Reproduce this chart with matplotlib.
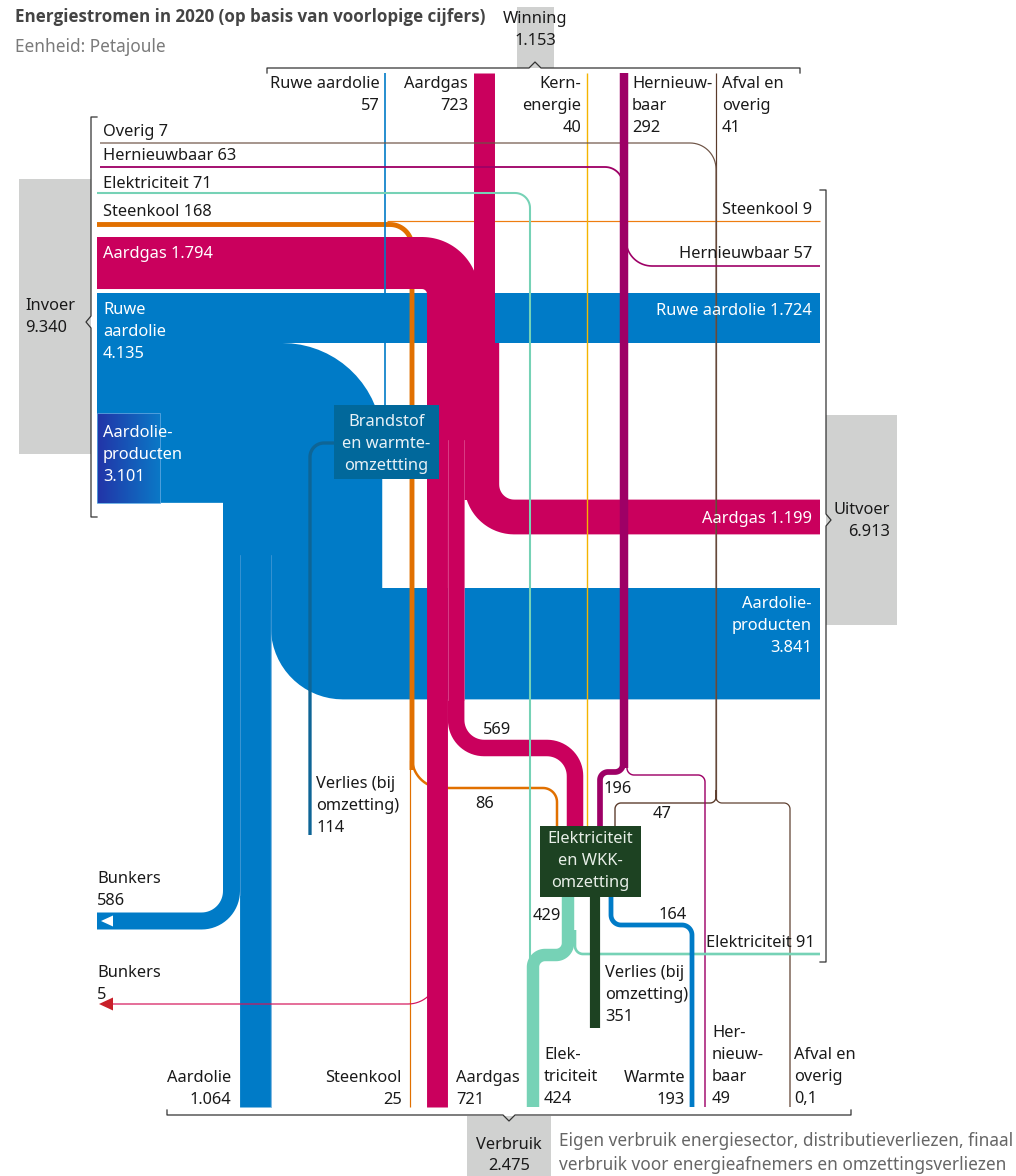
import numpy as np
import matplotlib.pyplot as plt
from matplotlib.patches import Polygon, Rectangle
from matplotlib.colors import LinearSegmentedColormap

# --- gegevens (PJ) ---
invoer_namen = ['Overig', 'Hernieuwbaar', 'Elektriciteit', 'Steenkool', 'Aardgas', 'Ruwe aardolie', 'Aardolieproducten']
invoer_waarden = [7, 63, 71, 168, 1794, 4135, 3101]
winning_namen = ['Ruwe aardolie', 'Aardgas', 'Kernenergie', 'Hernieuwbaar', 'Afval en overig']
winning_waarden = [57, 723, 40, 292, 41]
uitvoer_namen = ['Steenkool', 'Hernieuwbaar', 'Ruwe aardolie', 'Aardgas', 'Aardolieproducten', 'Elektriciteit']
uitvoer_waarden = [9, 57, 1724, 1199, 3841, 91]
verbruik_namen = ['Aardolie', 'Steenkool', 'Aardgas', 'Elektriciteit', 'Warmte', 'Hernieuwbaar', 'Afval en overig']
verbruik_waarden = [1064, 25, 721, 424, 193, 49, 0.1]
bunkers_waarden = [586, 5]            # aardolie, aardgas
verlies_waarden = [114, 351]          # brandstof/warmte, elektriciteit/wkk
naar_elek = [86, 569, 196, 47]        # steenkool, aardgas, hernieuwbaar, afval
uit_elek = [429, 164]                 # elektriciteit, warmte
totalen = {'Invoer': 9340, 'Winning': 1153, 'Uitvoer': 6913, 'Verbruik': 2475}

DPI = 100
S = 0.029          # px per PJ
FS = 11.8
FONT = 'Noto Sans'

OLIE = '#007bc7'
GAS = '#ca005d'
HERN = '#9e0066'
KOOL = '#e17000'
KERN = '#f5b400'
ELEK = '#76d2b6'
AFVAL = '#5a3a2a'
OVERIG = '#6e5446'
BRANDBOX = '#01689b'
ELEKBOX = '#1d4222'
GRIJS = '#d0d1d0'
TEKST = '#1a1a1a'


def nl(v):
    if float(v).is_integer():
        return f"{int(v):,}".replace(',', '.')
    return str(v).replace('.', ',')


def w(v, minw=1.2):
    return max(minw, v * S)


def rond(pts, r, n=18, closed=False):
    pts = np.asarray(pts, float)
    m = len(pts)
    rs = r if np.iterable(r) else [r] * m
    out = []
    idx = range(m) if closed else range(1, m - 1)
    if not closed:
        out.append(pts[0])
    for k, i in enumerate(idx):
        p0, p1, p2 = pts[i - 1], pts[i], pts[(i + 1) % m]
        rr = rs[i] if closed else rs[k]
        if rr <= 0:
            out.append(p1)
            continue
        d1 = (p0 - p1) / np.linalg.norm(p0 - p1)
        d2 = (p2 - p1) / np.linalg.norm(p2 - p1)
        c = p1 + (d1 + d2) * rr
        a0 = np.arctan2(-d2[1], -d2[0])
        a1 = np.arctan2(-d1[1], -d1[0])
        diff = (a1 - a0 + np.pi) % (2 * np.pi) - np.pi
        t = a0 + np.linspace(0, 1, n) * diff
        out.extend(np.c_[c[0] + rr * np.cos(t), c[1] + rr * np.sin(t)])
    if not closed:
        out.append(pts[-1])
    return np.array(out)


def stroom(pts, v, color, r=10, z=2, minw=1.2):
    xy = rond(pts, r)
    ax.plot(xy[:, 0], xy[:, 1], color=color, lw=w(v, minw) * 72 / DPI,
            solid_capstyle='butt', solid_joinstyle='round', zorder=z)


def tekst(x, y, s, ha='left', color=TEKST, size=FS, weight='normal', dy=22, z=10, family=FONT):
    for i, regel in enumerate(s.split('\n')):
        ax.text(x, y + i * dy, regel, ha=ha, va='baseline', color=color,
                fontsize=size, fontweight=weight, family=family, zorder=z)


fig = plt.figure(figsize=(10.16, 11.76), dpi=DPI)
ax = fig.add_axes([0, 0, 1, 1])
ax.set_xlim(0, 1016)
ax.set_ylim(1176, 0)
ax.axis('off')

# --- grijze vakken ---
for x0, y0, x1, y1 in [(19, 179, 91, 454), (826, 415, 897, 625), (517, 7, 554, 68), (467, 1116, 551, 1176)]:
    ax.add_patch(Rectangle((x0, y0), x1 - x0, y1 - y0, color=GRIJS, lw=0, zorder=0))

# --- aardolie (blauw) ---
X0, X1 = 97, 820
Y_RUW = 293
w_transit = uitvoer_waarden[2] * S
ax.add_patch(Rectangle((X0, Y_RUW), X1 - X0, w_transit, color=OLIE, lw=0, zorder=1))

X_KOL = 223
w_bunk = bunkers_waarden[0] * S
w_aard = verbruik_waarden[0] * S
w_prod = uitvoer_waarden[4] * S
x_kol_r = X_KOL + w_bunk + w_aard + w_prod
y_top = Y_RUW + w_transit
y_bot = Y_RUW + (invoer_waarden[5] + invoer_waarden[6]) * S
Y_PROD = 588
x_bocht = X_KOL + w_bunk + w_aard
poly = [(X0, y_top), (x_kol_r, y_top), (x_kol_r, Y_PROD), (X1, Y_PROD), (X1, Y_PROD + w_prod),
        (x_bocht, Y_PROD + w_prod), (x_bocht, 610), (X_KOL, 610), (X_KOL, y_bot), (X0, y_bot)]
radii = [0, 100, 0, 0, 0, 72, 0, 0, 0, 0]
ax.add_patch(Polygon(rond(poly, radii, closed=True), closed=True, color=OLIE, lw=0, zorder=1))

# bunkers en finaal verbruik aardolie
stroom([(X_KOL + w_bunk / 2, 600), (X_KOL + w_bunk / 2, 921), (X0, 921)], bunkers_waarden[0], OLIE, r=30, z=1)
stroom([(X_KOL + w_bunk + w_aard / 2, 600), (X_KOL + w_bunk + w_aard / 2, 1107)],
       verbruik_waarden[0], OLIE, z=1)
ax.plot([X_KOL + w_bunk] * 2, [555, 895], color='#4b9bd6', lw=0.5, zorder=1.5)
ax.plot([x_bocht] * 2, [555, 1107], color='#4b9bd6', lw=0.5, zorder=1.5)
ax.add_patch(Polygon([(101, 921), (113, 915.5), (113, 926.5)], color='white', lw=0, zorder=3))

# aardolieproducten invoer (verloop)
grad = np.linspace(0, 1, 100)[None, :]
cm = LinearSegmentedColormap.from_list('p', ['#2234a8', '#0b78c6'])
ax.imshow(grad, cmap=cm, extent=(X0, 160, y_bot, Y_RUW + invoer_waarden[5] * S), aspect='auto', zorder=1.6)
ax.add_patch(Rectangle((X0, Y_RUW + invoer_waarden[5] * S), 63, invoer_waarden[6] * S, fill=False,
                       ec='#5aa6e0', lw=0.6, zorder=1.7))

# verlies brandstof
stroom([(334, 443), (310, 443), (310, 835)], verlies_waarden[0], '#0e6596', r=14, z=3)

# --- steenkool ---
stroom([(X0, 224.5), (412, 224.5), (412, 770)], invoer_waarden[3], KOOL, r=22, z=2)
stroom([(412, 740), (412, 788), (557, 788), (557, 827)], naar_elek[0], KOOL, r=[30, 14], z=2)
stroom([(410, 760), (410, 1107)], verbruik_waarden[1], KOOL, z=2)
stroom([(387, 220.5), (X1, 220.5)], uitvoer_waarden[0], '#ee7d10', z=2)

# --- aardgas ---
X_GAS = 427
Y_GAS = 237
w_imp = invoer_waarden[4] * S
w_721 = verbruik_waarden[2] * S
w_569 = naar_elek[1] * S
w_exp = uitvoer_waarden[3] * S
stroom([(X0, Y_GAS + w_imp / 2), (X_GAS + w_imp / 2, Y_GAS + w_imp / 2), (X_GAS + w_imp / 2, 500)],
       invoer_waarden[4], GAS, r=w_imp / 2 + 5, z=3)
stroom([(484, 73), (484, 480)], winning_waarden[1], GAS, z=3)
x_exp = X_GAS + w_721 + w_569 + w_exp / 2
stroom([(x_exp, y_top), (x_exp, 517), (X1, 517)], uitvoer_waarden[3], GAS, r=w_exp / 2 + 15, z=3)
stroom([(X_GAS + w_721 / 2, 480), (X_GAS + w_721 / 2, 1107)], verbruik_waarden[2], GAS, z=3)
stroom([(X_GAS + w_721 + w_569 / 2, 480), (X_GAS + w_721 + w_569 / 2, 748), (575, 748), (575, 827)],
       naar_elek[1], GAS, r=28, z=3)
for xs in [X_GAS + w_721, X_GAS + w_721 + w_569]:
    ax.plot([xs, xs], [440, 700], color='#e05595', lw=0.5, zorder=3.1)
stroom([(438, 950), (438, 1004), (104, 1004)], bunkers_waarden[1], '#d4145a', r=30, z=2.9)
ax.add_patch(Polygon([(99, 1004), (113, 997.5), (113, 1010.5)], color='#c8202a', lw=0, zorder=3))

# --- dunne lijnen ---
stroom([(385, 73), (385, 405)], winning_waarden[0], OLIE, z=4)
stroom([(587, 73), (587, 827)], winning_waarden[2], KERN, z=4, minw=1.4)
stroom([(716, 73), (716, 800)], winning_waarden[4], AFVAL, z=4)
stroom([(100, 143), (716, 143), (716, 800)], invoer_waarden[0], OVERIG, r=26, z=4)
stroom([(716, 790), (716, 803), (615, 803), (615, 827)], naar_elek[3], AFVAL, r=6, z=4)
stroom([(716, 790), (716, 803), (790, 803), (790, 1107)], verbruik_waarden[6], AFVAL, r=6, z=4)
stroom([(100, 167), (623, 167), (623, 260)], invoer_waarden[1], HERN, r=18, z=4)
stroom([(624, 73), (624, 768)], winning_waarden[3], HERN, z=4)
stroom([(626, 230), (626, 266), (X1, 266)], uitvoer_waarden[1], HERN, r=26, z=4)
stroom([(623, 750), (623, 772), (600, 772), (600, 827)], naar_elek[2], HERN, r=8, z=4)
stroom([(627, 760), (627, 775), (705, 775), (705, 1107)], verbruik_waarden[5], HERN, r=7, z=4)
stroom([(X0, 193), (530, 193), (530, 960)], invoer_waarden[2], ELEK, r=15, z=4)

# --- uit elektriciteit en WKK ---
stroom([(568, 897), (568, 955), (533, 955), (533, 1107)], uit_elek[0], ELEK, r=12, z=4)
stroom([(575, 930), (575, 954), (X1, 954)], uitvoer_waarden[5], ELEK, r=8, z=4, minw=1.5)
stroom([(611, 897), (611, 925), (692, 925), (692, 1107)], uit_elek[1], OLIE, r=10, z=4)
stroom([(595, 897), (595, 1028)], verlies_waarden[1], ELEKBOX, z=4)

# --- omzettingsvakken ---
ax.add_patch(Rectangle((334, 405), 105, 74, color=BRANDBOX, lw=0, zorder=6))
tekst(386.5, 426, 'Brandstof\nen warmte-\nomzettting', ha='center', color='#e8f1f6')
ax.add_patch(Rectangle((540, 826), 101, 71, color=ELEKBOX, lw=0, zorder=6))
tekst(590.5, 843, 'Elektriciteit\nen WKK-\nomzetting', ha='center', color='#e8efe8')

# --- accolades ---
kw = dict(color='#333333', lw=0.9, zorder=5)
ax.plot([97, 91, 91, 86, 91, 91, 97], [117, 117, 316, 322, 328, 517, 517], **kw)
ax.plot([820, 826, 826, 831, 826, 826, 820], [190, 190, 514, 520, 526, 962, 962], **kw)
ax.plot([267, 267, 529, 535, 541, 800, 800], [73, 68, 68, 62, 68, 68, 73], **kw)
ax.plot([167, 167, 503, 509, 515, 851, 851], [1110, 1115, 1115, 1121, 1115, 1115, 1110], **kw)

# --- teksten ---
ax.text(15, 22, 'Energiestromen in 2020 (op basis van voorlopige cijfers)', fontsize=12.25, fontweight='bold',
        color='#444444', family='Open Sans', va='baseline')
tekst(15, 52, 'Eenheid: Petajoule', color='#7a7a7a', size=12.4)
tekst(535.5, 23, f"Winning\n{nl(totalen['Winning'])}", ha='center')
tekst(25, 310, f"Invoer\n{nl(totalen['Invoer'])}")
tekst(890, 514, f"Uitvoer\n{nl(totalen['Uitvoer'])}", ha='right')
tekst(509, 1149, f"Verbruik\n{nl(totalen['Verbruik'])}", ha='center', dy=21)
tekst(559, 1146, 'Eigen verbruik energiesector, distributieverliezen, finaal\n'
      'verbruik voor energieafnemers en omzettingsverliezen', color='#666666', size=12.4, dy=24)

# winning
tekst(380, 88, f"Ruwe aardolie\n{nl(winning_waarden[0])}", ha='right')
tekst(468, 88, f"Aardgas\n{nl(winning_waarden[1])}", ha='right')
tekst(581, 88, f"Kern-\nenergie\n{nl(winning_waarden[2])}", ha='right')
tekst(632, 88, f"Hernieuw-\nbaar\n{nl(winning_waarden[3])}")
tekst(722, 88, f"Afval en\noverig\n{nl(winning_waarden[4])}")

# invoer
tekst(103, 136, f"Overig {nl(invoer_waarden[0])}")
tekst(103, 160, f"Hernieuwbaar {nl(invoer_waarden[1])}")
tekst(103, 188, f"Elektriciteit {nl(invoer_waarden[2])}")
tekst(103, 216, f"Steenkool {nl(invoer_waarden[3])}")
tekst(103, 258, f"Aardgas {nl(invoer_waarden[4])}", color='white')
tekst(103, 314, f"Ruwe\naardolie\n{nl(invoer_waarden[5])}", color='white')
tekst(103, 437, f"Aardolie-\nproducten\n{nl(invoer_waarden[6])}", color='white')

# uitvoer
tekst(812, 214, f"Steenkool {nl(uitvoer_waarden[0])}", ha='right')
tekst(812, 258, f"Hernieuwbaar {nl(uitvoer_waarden[1])}", ha='right')
tekst(812, 315, f"Ruwe aardolie {nl(uitvoer_waarden[2])}", ha='right', color='white')
tekst(812, 523, f"Aardgas {nl(uitvoer_waarden[3])}", ha='right', color='white')
tekst(812, 608, f"Aardolie-\nproducten\n{nl(uitvoer_waarden[4])}", ha='right', color='white')
tekst(815, 947, f"Elektriciteit {nl(uitvoer_waarden[5])}", ha='right')

# tussenstromen
tekst(497, 734, nl(naar_elek[1]), ha='center')
tekst(485, 808, nl(naar_elek[0]), ha='center')
tekst(603, 793, nl(naar_elek[2]))
tekst(662, 818, nl(naar_elek[3]), ha='center')
tekst(561, 920, nl(uit_elek[0]), ha='right')
tekst(673, 919, nl(uit_elek[1]), ha='center')
tekst(316, 788, f"Verlies (bij\nomzetting)\n{nl(verlies_waarden[0])}")
tekst(605, 977, f"Verlies (bij\nomzetting)\n{nl(verlies_waarden[1])}")
tekst(97, 883, f"Bunkers\n{nl(bunkers_waarden[0])}")
tekst(97, 977, f"Bunkers\n{nl(bunkers_waarden[1])}")

# verbruik
tekst(231, 1082, f"Aardolie\n{nl(verbruik_waarden[0])}", ha='right')
tekst(402, 1082, f"Steenkool\n{nl(verbruik_waarden[1])}", ha='right')
tekst(456, 1082, f"Aardgas\n{nl(verbruik_waarden[2])}")
tekst(544, 1059, f"Elek-\ntriciteit\n{nl(verbruik_waarden[3])}")
tekst(685, 1082, f"Warmte\n{nl(verbruik_waarden[4])}", ha='right')
tekst(712, 1037, f"Her-\nnieuw-\nbaar\n{nl(verbruik_waarden[5])}")
tekst(794, 1059, f"Afval en\noverig\n{nl(verbruik_waarden[6])}")

fig.savefig('out.png', dpi=DPI)
